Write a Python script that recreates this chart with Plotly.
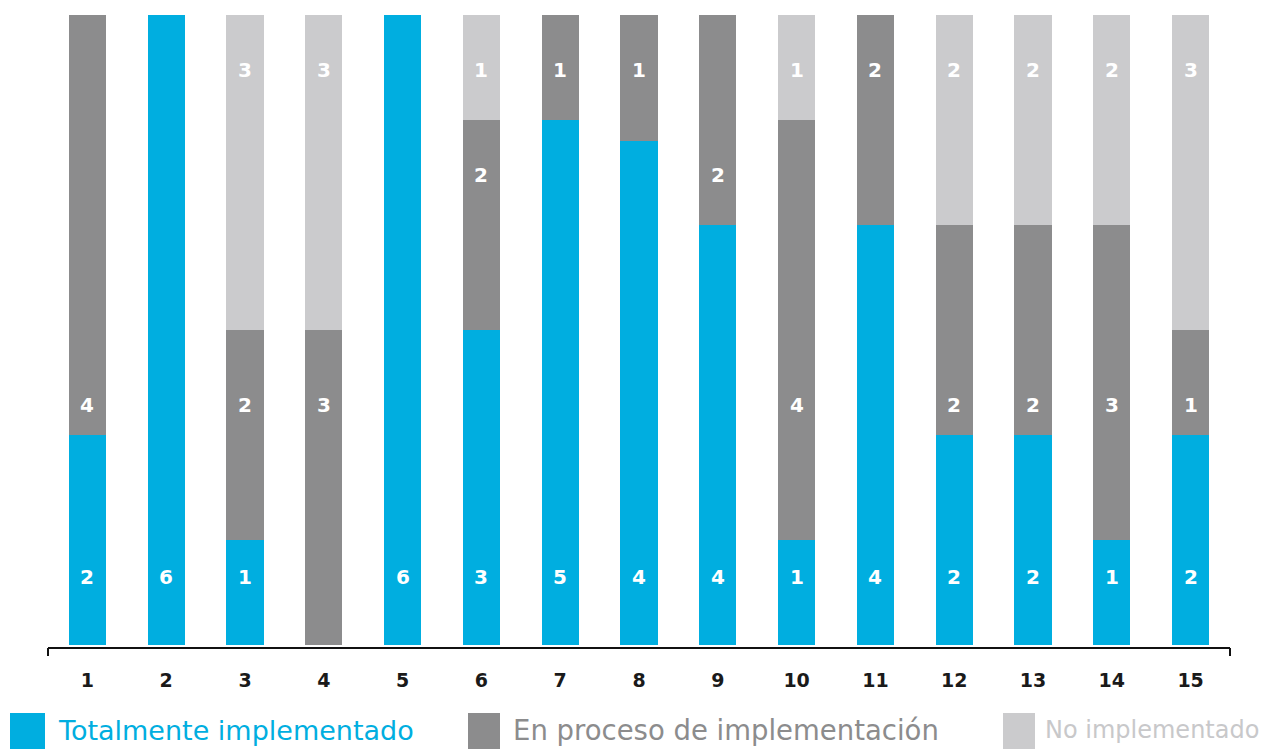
import plotly.graph_objects as go

categories = [str(i) for i in range(1, 16)]
totalmente = [2, 6, 1, 0, 6, 3, 5, 4, 4, 1, 4, 2, 2, 1, 2]
en_proceso = [4, 0, 2, 3, 0, 2, 1, 1, 2, 4, 2, 2, 2, 3, 1]
no_impl = [0, 0, 3, 3, 0, 1, 0, 0, 0, 1, 0, 2, 2, 2, 3]
series_names = ["Totalmente implementado", "En proceso de implementación", "No implementado"]

# styling
COL_T = "#00AEE0"
COL_P = "#8C8C8D"
COL_N = "#CBCBCD"
FONT = "DejaVu Sans"
OFF = 8  # page body margin
W, H = 1270 - OFF, 749 - OFF
ML, MT = 48 - OFF, 15 - OFF
MR = W - (1230 - OFF)
MB = H - (645 - OFF)
PLOT_W = W - ML - MR
PLOT_H = H - MT - MB

# label row heights (fraction of bar) used in the original layout
ROWS = [0.108, 0.381, 0.746, 0.913]
P_ROW = [1, None, 1, 1, None, 2, 3, 3, 2, 1, 3, 1, 1, 1, 1]

x = list(range(1, 16))

fig = go.Figure()
for vals, col, name in zip([totalmente, en_proceso, no_impl], [COL_T, COL_P, COL_N], series_names):
    fig.add_trace(go.Bar(x=x, y=vals, marker=dict(color=col, line=dict(width=0)),
                         name=name, width=0.47, showlegend=False, hoverinfo="y+name"))

ann = []
for i in range(15):
    if totalmente[i] > 0:
        ann.append(dict(x=x[i], y=ROWS[0], text=str(totalmente[i])))
    if en_proceso[i] > 0:
        ann.append(dict(x=x[i], y=ROWS[P_ROW[i]], text=str(en_proceso[i])))
    if no_impl[i] > 0:
        ann.append(dict(x=x[i], y=ROWS[3], text=str(no_impl[i])))
annotations = [dict(a, xref="x", yref="y", showarrow=False,
                    font=dict(family=FONT, size=20, color="white", weight="bold")) for a in ann]


def px_x(p):
    return (p - OFF - ML) / PLOT_W


def px_y(p):
    return (H - MB - (p - OFF)) / PLOT_H


shapes = [
    dict(type="line", xref="paper", yref="paper", x0=0, x1=1, y0=px_y(648), y1=px_y(648),
         line=dict(color="#111", width=2)),
    dict(type="line", xref="paper", yref="paper", x0=0, x1=0, y0=px_y(648), y1=px_y(656),
         line=dict(color="#111", width=2)),
    dict(type="line", xref="paper", yref="paper", x0=1, x1=1, y0=px_y(648), y1=px_y(656),
         line=dict(color="#111", width=2)),
]

legend_items = [
    (10, 45, 56, COL_T, series_names[0], COL_T, 27),
    (468, 500, 511, COL_P, series_names[1], COL_P, 27.5),
    (1003, 1035, 1043, COL_N, series_names[2], "#C8C8CA", 24),
]
for sx0, sx1, tx, col, name, tcol, fs in legend_items:
    shapes.append(dict(type="rect", xref="paper", yref="paper",
                       x0=px_x(sx0), x1=px_x(sx1), y0=px_y(713), y1=px_y(752),
                       fillcolor=col, line=dict(width=0)))
    annotations.append(dict(xref="paper", yref="paper", x=px_x(tx), y=px_y(730),
                            xanchor="left", yanchor="middle", showarrow=False,
                            text=name, font=dict(family=FONT, size=fs, color=tcol)))

fig.update_layout(
    width=W, height=H,
    margin=dict(l=ML, r=MR, t=MT, b=MB),
    barmode="stack", barnorm="fraction",
    plot_bgcolor="white", paper_bgcolor="white",
    xaxis=dict(range=[0.5, 15.5], tickmode="array", tickvals=x, ticktext=categories,
               showgrid=False, zeroline=False, showline=False, ticks="",
               tickfont=dict(family=FONT, size=19, color="#1a1a1a", weight="bold"),
               ticklabelstandoff=22),
    yaxis=dict(range=[0, 1], visible=False, showgrid=False, zeroline=False),
    annotations=annotations, shapes=shapes,
)

fig.write_html("out.html")
